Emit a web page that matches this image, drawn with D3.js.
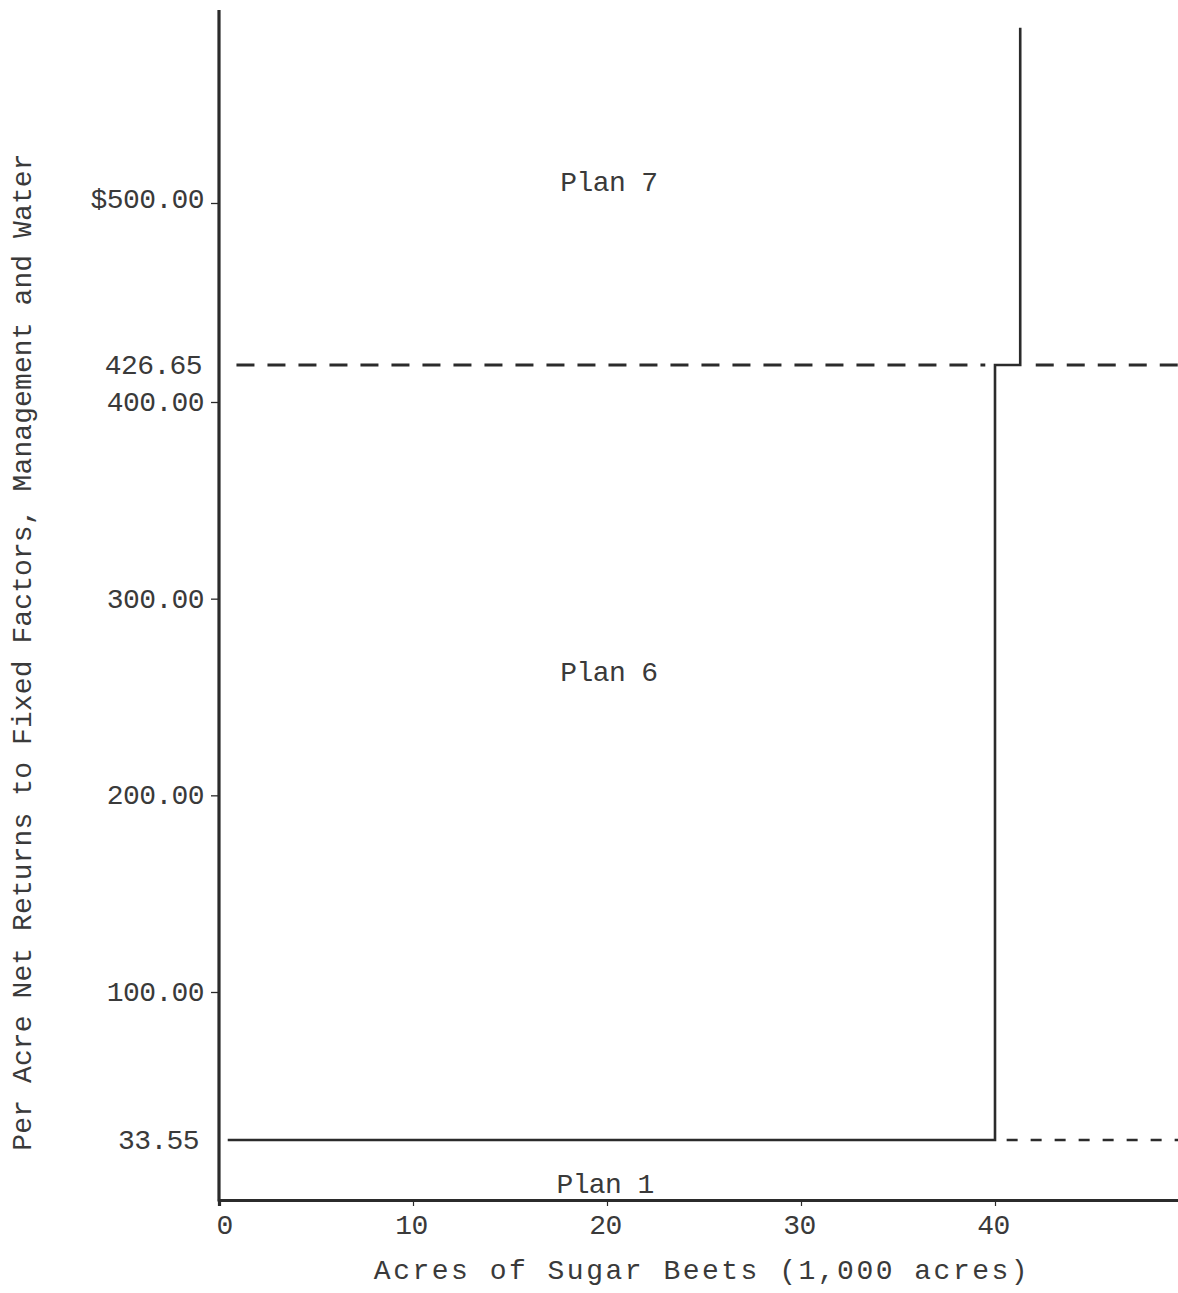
<!DOCTYPE html>
<html>
<head>
<meta charset="utf-8">
<script src="https://cdn.jsdelivr.net/npm/d3@7"></script>
<style>
  html, body { margin: 0; padding: 0; background: #fff; }
  svg { display: block; }
  text { font-family: "Liberation Mono", "DejaVu Sans Mono", monospace; fill: #3a3a3a; }
</style>
</head>
<body>
<svg id="chart" width="1178" height="1293"></svg>
<script>
// ---- data ----
const xTickValues = [0, 10, 20, 30, 40];
const xTickLabels = ["0", "10", "20", "30", "40"];
const yTickValues = [33.55, 100, 200, 300, 400, 426.65, 500];
const yTickLabels = ["33.55", "100.00", "200.00", "300.00", "400.00", "426.65", "$500.00"];
const yMarkedTicks = [100, 200, 300, 400, 500];   // ticks with a small mark
const xMax = 49.5;
const yTop = 587;

// boundary between Plan 1 and Plan 6 / Plan 7 (solid step line)
const stepLine = [[0.45, 33.55], [40, 33.55], [40, 426.65], [41.3, 426.65], [41.3, 579]];
// dashed threshold lines
const dashed426 = [[[0.9, 426.65], [39.5, 426.65]], [[42.1, 426.65], [xMax, 426.65]]];
const dashed33 = [[[40.6, 33.55], [xMax, 33.55]]];

const planLabels = ["Plan 7", "Plan 6", "Plan 1"];
const planX = [20.1, 20.1, 19.9];
const planY = [510, 263, 9.5];

const xTitle = "Acres of Sugar Beets (1,000 acres)";
const yTitle = "Per Acre Net Returns to Fixed Factors, Management and Water";

// ---- scales ----
const svg = d3.select("#chart");
const x = d3.scaleLinear().domain([0, xMax]).range([219, 219 + xMax * 19.4]);
const y = d3.scaleLinear()
  .domain([0, 33.55, 100, 400, 426.65, 500, yTop])
  .range([1200, 1140, 992, 402, 365, 203, 10]);

const ink = "#2b2b2b";
const fs = 28, ls = -0.6;
const line = d3.line().x(d => x(d[0])).y(d => y(d[1]));

// ---- x axis ----
const xAxis = d3.axisBottom(x)
  .tickValues(xTickValues)
  .tickFormat((d, i) => xTickLabels[i])
  .tickSizeOuter(0)
  .tickSize(6)
  .tickPadding(8);
const gx = svg.append("g").attr("transform", `translate(0,${y(0)})`).call(xAxis);
gx.select(".domain").attr("stroke", ink).attr("stroke-width", 3.2);
gx.selectAll(".tick line").attr("stroke", ink).attr("stroke-width", 1.2)
  .attr("display", d => d === 0 ? "none" : null);
gx.selectAll(".tick text").attr("font-size", fs).attr("letter-spacing", ls).attr("fill", "#3a3a3a")
  .attr("font-family", "Liberation Mono, monospace")
  .attr("dx", d => d === 0 ? 5 : -2);

// ---- y axis ----
const yAxis = d3.axisLeft(y)
  .tickValues(yTickValues)
  .tickFormat((d, i) => yTickLabels[i])
  .tickSizeOuter(0)
  .tickSize(8)
  .tickPadding(7);
const gy = svg.append("g").attr("transform", `translate(${x(0)},0)`).call(yAxis);
gy.select(".domain").attr("stroke", ink).attr("stroke-width", 3.2)
  .attr("d", `M0,${y(yTop)}V${y(0) + 1.5}`);
gy.selectAll(".tick line").attr("stroke", ink).attr("stroke-width", 1.3)
  .attr("display", d => yMarkedTicks.includes(d) ? null : "none");
gy.selectAll(".tick text").attr("font-size", fs).attr("letter-spacing", ls).attr("fill", "#3a3a3a")
  .attr("font-family", "Liberation Mono, monospace")
  .attr("dy", d => d === 500 ? "0.15em" : "0.3em")
  .attr("x", d => d === 426.65 ? -17 : (d === 33.55 ? -20 : -15));

// ---- step line ----
svg.append("path").datum(stepLine)
  .attr("d", line)
  .attr("fill", "none")
  .attr("stroke", ink)
  .attr("stroke-width", 2.6)
  .attr("stroke-linejoin", "miter");

// ---- dashed lines ----
svg.append("g").selectAll("path").data(dashed426).join("path")
  .attr("d", line)
  .attr("fill", "none")
  .attr("stroke", ink)
  .attr("stroke-width", 3)
  .attr("stroke-dasharray", "18 13");
svg.append("g").selectAll("path").data(dashed33).join("path")
  .attr("d", line)
  .attr("fill", "none")
  .attr("stroke", ink)
  .attr("stroke-width", 2.6)
  .attr("stroke-dasharray", "11 13");

// ---- plan labels ----
svg.append("g").selectAll("text").data(planLabels).join("text")
  .attr("x", (d, i) => x(planX[i]))
  .attr("y", (d, i) => y(planY[i]))
  .attr("dy", "0.35em")
  .attr("text-anchor", "middle")
  .attr("font-size", fs)
  .attr("letter-spacing", ls)
  .text(d => d);

// ---- axis titles ----
svg.append("text")
  .attr("x", 702).attr("y", 1279)
  .attr("text-anchor", "middle")
  .attr("font-size", fs)
  .attr("letter-spacing", 2.5)
  .text(xTitle);

svg.append("text")
  .attr("transform", "translate(31,652) rotate(-90)")
  .attr("text-anchor", "middle")
  .attr("font-size", fs)
  .attr("letter-spacing", 0.1)
  .text(yTitle);
</script>
</body>
</html>
